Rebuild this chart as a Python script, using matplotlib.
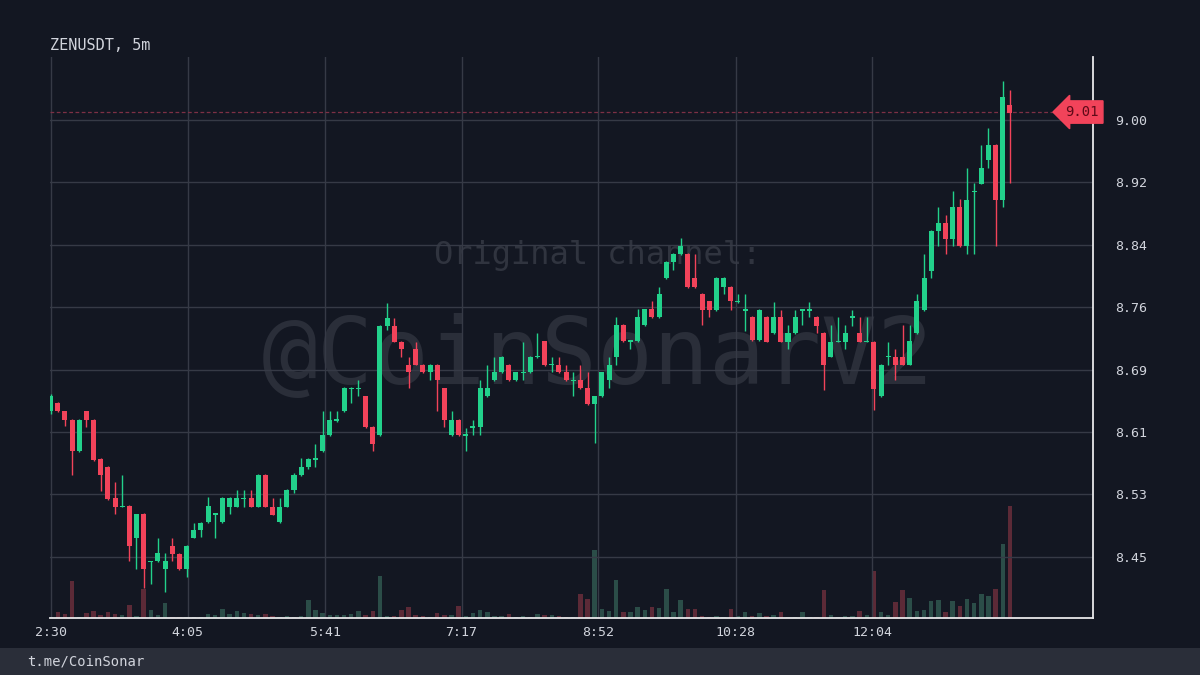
import matplotlib
matplotlib.use("Agg")
import matplotlib.pyplot as plt
from matplotlib.patches import Rectangle
import numpy as np

# ---------------- data ----------------
opens = [8.633, 8.643, 8.633, 8.622, 8.583, 8.633, 8.622, 8.573, 8.563, 8.524,
         8.512, 8.514, 8.474, 8.504, 8.443, 8.444, 8.434, 8.464, 8.454, 8.434,
         8.4735, 8.484, 8.494, 8.503, 8.494, 8.513, 8.513, 8.523, 8.524, 8.513,
         8.553, 8.513, 8.494, 8.513, 8.534, 8.553, 8.563, 8.572, 8.583, 8.603,
         8.621, 8.633, 8.661, 8.661, 8.652, 8.613, 8.603, 8.741, 8.741, 8.721,
         8.692, 8.7116, 8.692, 8.682, 8.692, 8.6625, 8.603, 8.622, 8.602, 8.612,
         8.613, 8.652, 8.672, 8.682, 8.692, 8.672, 8.681, 8.682, 8.701, 8.7215,
         8.691, 8.692, 8.682, 8.671, 8.672, 8.6625, 8.642, 8.652, 8.672, 8.702,
         8.742, 8.721, 8.722, 8.742, 8.7615, 8.752, 8.801, 8.821, 8.831, 8.831,
         8.801, 8.781, 8.7715, 8.761, 8.790, 8.790, 8.771, 8.760, 8.752, 8.723,
         8.752, 8.732, 8.752, 8.721, 8.732, 8.760, 8.760, 8.752, 8.732, 8.702,
         8.720, 8.721, 8.751, 8.732, 8.720, 8.721, 8.652, 8.701, 8.702, 8.702,
         8.692, 8.732, 8.761, 8.810, 8.8606, 8.870, 8.8505, 8.890, 8.841, 8.909,
         8.9194, 8.949, 8.969, 8.8996, 9.019]
highs = [8.655, 8.645, 8.634, 8.623, 8.623, 8.634, 8.623, 8.574, 8.564, 8.544,
         8.553, 8.515, 8.504, 8.505, 8.445, 8.4735, 8.455, 8.4735, 8.455, 8.465,
         8.493, 8.494, 8.525, 8.505, 8.525, 8.525, 8.534, 8.534, 8.534, 8.554,
         8.554, 8.524, 8.524, 8.535, 8.556, 8.574, 8.574, 8.592, 8.633, 8.633,
         8.633, 8.664, 8.664, 8.672, 8.653, 8.614, 8.742, 8.770, 8.750, 8.722,
         8.702, 8.721, 8.693, 8.693, 8.693, 8.663, 8.633, 8.623, 8.612, 8.622,
         8.672, 8.692, 8.702, 8.703, 8.693, 8.683, 8.721, 8.703, 8.732, 8.722,
         8.702, 8.702, 8.692, 8.682, 8.692, 8.682, 8.653, 8.683, 8.702, 8.752,
         8.743, 8.723, 8.7615, 8.762, 8.7715, 8.790, 8.822, 8.832, 8.851, 8.832,
         8.831, 8.782, 8.772, 8.802, 8.802, 8.791, 8.781, 8.781, 8.753, 8.762,
         8.753, 8.771, 8.761, 8.742, 8.761, 8.762, 8.771, 8.753, 8.733, 8.742,
         8.752, 8.742, 8.761, 8.752, 8.752, 8.722, 8.693, 8.721, 8.712, 8.742,
         8.742, 8.781, 8.831, 8.861, 8.890, 8.880, 8.910, 8.900, 8.9395, 8.920,
         8.969, 8.9895, 8.970, 9.0486, 9.038]
lows = [8.630, 8.632, 8.614, 8.553, 8.582, 8.613, 8.571, 8.533, 8.522, 8.504,
        8.512, 8.444, 8.434, 8.411, 8.415, 8.443, 8.405, 8.444, 8.433, 8.424,
        8.473, 8.475, 8.493, 8.4735, 8.493, 8.504, 8.512, 8.513, 8.512, 8.512,
        8.512, 8.502, 8.493, 8.512, 8.530, 8.552, 8.560, 8.563, 8.582, 8.602,
        8.620, 8.632, 8.643, 8.652, 8.612, 8.583, 8.602, 8.735, 8.720, 8.702,
        8.6625, 8.691, 8.681, 8.672, 8.633, 8.613, 8.602, 8.602, 8.583, 8.603,
        8.603, 8.651, 8.671, 8.681, 8.671, 8.671, 8.672, 8.681, 8.700, 8.690,
        8.682, 8.681, 8.671, 8.652, 8.661, 8.641, 8.593, 8.651, 8.662, 8.692,
        8.721, 8.712, 8.721, 8.741, 8.751, 8.751, 8.800, 8.811, 8.830, 8.789,
        8.789, 8.742, 8.752, 8.760, 8.781, 8.761, 8.770, 8.734, 8.722, 8.722,
        8.720, 8.731, 8.720, 8.712, 8.731, 8.742, 8.752, 8.732, 8.660, 8.701,
        8.720, 8.712, 8.741, 8.720, 8.720, 8.635, 8.651, 8.692, 8.672, 8.691,
        8.691, 8.731, 8.760, 8.801, 8.841, 8.831, 8.841, 8.840, 8.831, 8.831,
        8.919, 8.9395, 8.841, 8.891, 8.9207]
closes = [8.653, 8.633, 8.622, 8.583, 8.622, 8.622, 8.572, 8.553, 8.523, 8.513,
          8.514, 8.464, 8.504, 8.434, 8.445, 8.455, 8.444, 8.454, 8.434, 8.464,
          8.483, 8.493, 8.514, 8.505, 8.524, 8.524, 8.524, 8.524, 8.513, 8.553,
          8.513, 8.503, 8.513, 8.534, 8.553, 8.563, 8.573, 8.574, 8.603, 8.622,
          8.623, 8.6625, 8.663, 8.663, 8.613, 8.592, 8.741, 8.7506, 8.721, 8.7116,
          8.682, 8.692, 8.682, 8.692, 8.672, 8.622, 8.622, 8.603, 8.604, 8.614,
          8.6625, 8.6625, 8.682, 8.702, 8.672, 8.682, 8.683, 8.702, 8.703, 8.692,
          8.693, 8.682, 8.672, 8.673, 8.662, 8.642, 8.652, 8.682, 8.692, 8.742,
          8.722, 8.723, 8.752, 8.7615, 8.752, 8.781, 8.821, 8.831, 8.841, 8.790,
          8.790, 8.761, 8.761, 8.801, 8.801, 8.7715, 8.772, 8.762, 8.7233, 8.761,
          8.721, 8.752, 8.721, 8.732, 8.752, 8.762, 8.762, 8.741, 8.692, 8.721,
          8.722, 8.732, 8.753, 8.721, 8.722, 8.6616, 8.692, 8.703, 8.692, 8.692,
          8.7215, 8.7715, 8.801, 8.8606, 8.870, 8.8505, 8.890, 8.841, 8.8996, 8.911,
          8.9395, 8.969, 8.8996, 9.029, 9.0085]
volumes = [3, 17, 12, 110, 3, 15, 20, 10, 17, 13,
           10, 40, 7, 87, 23, 10, 45, 2, 2, 3,
           2, 3, 12, 9, 28, 12, 20, 15, 12, 8,
           12, 5, 2, 6, 4, 5, 55, 25, 16, 9,
           8, 8, 11, 22, 10, 21, 127, 7, 7, 25,
           33, 10, 6, 2, 15, 9, 8, 35, 7, 15,
           23, 19, 7, 7, 12, 2, 6, 4, 12, 10,
           8, 6, 2, 2, 72, 58, 203, 28, 22, 115,
           19, 18, 33, 25, 34, 31, 87, 17, 55, 27,
           28, 7, 3, 6, 3, 26, 6, 19, 6, 14,
           5, 10, 19, 3, 3, 18, 2, 4, 83, 10,
           4, 6, 6, 21, 10, 140, 19, 10, 47, 83,
           60, 22, 24, 51, 55, 17, 51, 37, 58, 45,
           71, 67, 87, 223, 337]

time_tick_pos = [0, 19.13, 38.27, 57.4, 76.53, 95.67, 114.8]
time_tick_labels = ["2:30", "4:05", "5:41", "7:17", "8:52", "10:28", "12:04"]
price_ticks = list(np.linspace(8.45, 9.00, 8))
last_price = 9.01
symbol_title = "ZENUSDT, 5m"

# ---------------- style ----------------
BG = "#131722"
GREEN = "#22d18b"
RED = "#f2435a"
VGREEN = "#2b4d48"
VRED = "#5c2a37"
GRID = "#363a46"
TXT = "#d1d4dc"
MONO = "DejaVu Sans Mono"

fig = plt.figure(figsize=(12, 6.75), dpi=100, facecolor=BG)
rect = [50 / 1200, 1 - 618 / 675, 1043 / 1200, 561 / 675]

ax_v = fig.add_axes(rect, zorder=0)
ax_v.set_facecolor(BG)
ax = fig.add_axes(rect, zorder=1, sharex=ax_v)
ax.patch.set_visible(False)

n = len(closes)
xs = np.arange(n)
up = [c >= o for o, c in zip(opens, closes)]

# volume
ax_v.bar(xs, volumes, width=0.62, color=[VGREEN if u else VRED for u in up], zorder=2)
ax_v.set_ylim(0, 1683)
ax_v.set_yticks([])
for s in ax_v.spines.values():
    s.set_visible(False)
ax_v.tick_params(axis="x", which="both", length=0, labelbottom=False)

# watermark
ax_v.text(0.5254, 0.647, "Original channel:", transform=ax_v.transAxes, ha="center",
          va="center", fontsize=23, color="#30343f", family=MONO, zorder=1)
ax_v.text(0.5254, 0.4635, "@CoinSonarV2", transform=ax_v.transAxes, ha="center",
          va="center", fontsize=67, color="#2a2e39", family=MONO, zorder=1)

# candles
cols = [GREEN if u else RED for u in up]
ax.vlines(xs, lows, highs, colors=cols, linewidth=1.0, zorder=3)
bottoms = [min(o, c) for o, c in zip(opens, closes)]
heights = [max(abs(c - o), 0.0014) for o, c in zip(opens, closes)]
ax.bar(xs, heights, bottom=bottoms, width=0.7, color=cols, zorder=4)

ax.set_xlim(-0.08, 145.6)
ax.set_ylim(8.3728, 9.0793)

# grid
ax.set_yticks(price_ticks)
ax.set_yticklabels([f"{v:.2f}" for v in price_ticks])
ax.set_xticks(time_tick_pos)
ax.set_xticklabels(time_tick_labels)
ax.grid(True, color=GRID, linewidth=1.0, zorder=0)
ax.set_axisbelow(True)
ax.yaxis.tick_right()
ax.tick_params(axis="y", length=0, pad=16, labelsize=9.5, labelcolor=TXT)
ax.tick_params(axis="x", length=0, pad=6, labelsize=9.5, labelcolor=TXT)
for lab in ax.get_xticklabels() + ax.get_yticklabels():
    lab.set_family(MONO)
for k in ["top", "left"]:
    ax.spines[k].set_visible(False)
for k in ["right", "bottom"]:
    ax.spines[k].set_color("#e8e8ea")
    ax.spines[k].set_linewidth(1.3)

# last price line + label
ax.axhline(last_price, color="#7d3045", linestyle=(0, (3, 2)), linewidth=0.9, zorder=2)
ax.text(0.9895, last_price, f"{last_price:.2f}", transform=ax.get_yaxis_transform(),
        ha="center", va="center", fontsize=10, family=MONO, color="#5e0a18",
        clip_on=False, zorder=10,
        bbox=dict(boxstyle="larrow,pad=0.3", facecolor=RED, edgecolor=RED))

# title
fig.text(50 / 1200, 1 - 45 / 675, symbol_title, ha="left", va="center",
         fontsize=11, color=TXT, family=MONO)

# bottom strip
fig.patches.append(Rectangle((0, 0), 1, 27 / 675, transform=fig.transFigure,
                             facecolor="#2a2e39", edgecolor="none", zorder=0))
fig.text(27 / 1200, 13.5 / 675, "t.me/CoinSonar", ha="left", va="center",
         fontsize=10, color=TXT, family=MONO)

fig.savefig("out.png", dpi=100, facecolor=BG)
